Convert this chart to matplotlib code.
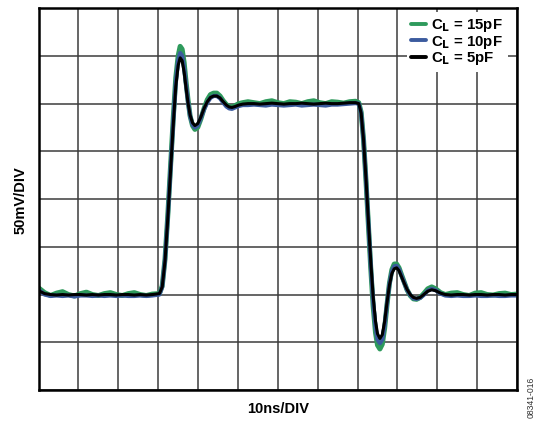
import matplotlib
matplotlib.use("Agg")
import matplotlib.pyplot as plt

plt.rcParams["font.family"] = ["Liberation Sans", "DejaVu Sans"]

# time axis (ns) shared by the three traces
time_ns = [
    0, 1.5, 3, 4.5, 6, 7.5, 9, 10.5, 12, 13.5, 15, 16.5, 18, 19.5, 21, 22.5, 24, 25.5, 27, 28.5,
    30.3, 31, 31.7, 32.4, 33.1, 33.8, 34.4, 35.0, 35.5, 36.0, 36.5, 37.0, 37.5, 38.0, 38.6, 39.2,
    39.9, 40.7, 41.5, 42.3, 43.1, 43.9, 44.7, 45.5, 46.3, 47.1, 47.8, 48.5, 49.3, 50.2, 51.2,
    52.5, 54, 55.5, 57, 58.5, 60, 61.5, 63, 64.5, 66, 67.5, 69, 70.5, 72, 73.5, 75, 76.5, 78, 79.5,
    80.3, 80.9, 81.5, 82.1, 82.7, 83.3, 83.9, 84.5, 85.0, 85.6, 86.2, 86.8, 87.4, 88.0, 88.6, 89.2,
    89.8, 90.4, 91.0, 91.7, 92.4, 93.2, 94.0, 94.8, 95.7, 96.6, 97.6, 98.6, 99.6, 100.8,
    102, 103.5, 105, 106.5, 108, 109.5, 111, 112.5, 114, 115.5, 117, 118.5, 120,
]

# output voltage (mV) for each load capacitance
cl_15pf = [
    107, 102, 99, 101.5, 103, 100, 98.5, 101, 102.5, 100, 99, 101, 102, 100, 99, 101, 102, 100, 99, 100.5,
    101, 109, 137, 183, 235, 287, 327, 350, 360, 357, 343, 322, 303, 287, 277, 273,
    275, 284, 295, 304, 309.5, 311, 311, 308, 303, 299, 297, 296.5, 298, 300, 301,
    302, 301, 300, 302, 303, 301, 300, 302, 301.5, 300, 302, 303, 301, 300, 302, 301.5, 300.5, 302, 302.5,
    301, 291, 262, 220, 174, 128, 88, 60, 47, 43, 48, 65, 90, 112, 126, 132,
    132, 128, 121, 113, 105, 99, 95.5, 95, 97, 101, 106, 108, 106, 102,
    100, 101.5, 102, 100, 99, 101.5, 102, 100, 99.5, 101, 101.5, 100, 100.5,
]
cl_10pf = [
    105, 100, 98.5, 99, 98.5, 99, 98, 99, 99, 98.5, 99, 98.5, 99, 98.5, 99, 98.5, 98.5, 99, 98.5, 99,
    100, 108, 136, 181, 232, 283, 322, 345, 353, 350, 337, 319, 301, 287, 278, 275,
    277, 285, 294, 301, 306, 308, 308, 305.5, 301, 297, 295, 294.5, 296, 297.5, 298.5,
    298.5, 299, 298.5, 298, 299, 298.5, 298, 298.5, 299, 298, 298.5, 299, 298.5, 298, 299, 299, 299.5, 300, 300.5,
    300, 290, 262, 221, 176, 131, 93, 66, 53, 49, 53, 68, 91, 111, 124, 129.5,
    130, 126.5, 120, 112.5, 105, 99.5, 96, 95.5, 96.5, 99.5, 104, 106, 104.5, 101,
    99, 98.5, 99, 98.5, 98.5, 99, 98.5, 98.5, 99, 98.5, 98.5, 99, 99,
]
cl_5pf = [
    104, 101, 100, 99.5, 100, 99.5, 100, 100, 99.5, 100, 99.5, 100, 100, 99.5, 100, 100, 99.5, 100, 99.5, 100,
    101, 108, 135, 180, 230, 280, 318, 340, 348, 345, 333, 316, 300, 288, 280, 277,
    279, 286, 295, 302, 306.5, 308, 308, 306, 302, 298.5, 296.5, 296, 297, 298.5, 299.5,
    300, 300, 299.5, 300, 300.5, 300, 299.5, 300, 300, 300.5, 300, 299.5, 300, 300.5, 300, 300, 300.5, 301, 301,
    300, 290, 262, 222, 178, 135, 98, 72, 59, 54, 58, 72, 92, 110, 122, 127,
    128, 125, 119, 112, 105.5, 100, 97, 96, 97, 100, 103.5, 105, 104, 101.5,
    100, 99.5, 100, 100, 99.5, 100, 100, 99.5, 100, 100, 99.5, 100, 100,
]

fig = plt.figure(figsize=(5.4, 4.21), dpi=100)
ax = fig.add_axes([0.0715, 0.0736, 0.886, 0.907])

line_kw = dict(solid_joinstyle="round", solid_capstyle="round")
ax.plot(time_ns, cl_15pf, color="#2e9a5c", lw=3.6, label="C$_\\mathbf{L}$ = 15pF", **line_kw)
ax.plot(time_ns, cl_10pf, color="#3b5b9e", lw=3.0, label="C$_\\mathbf{L}$ = 10pF", **line_kw)
ax.plot(time_ns, cl_5pf, color="black", lw=2.2, label="C$_\\mathbf{L}$ = 5pF", **line_kw)

ax.set_xlim(0, 120)
ax.set_ylim(0, 400)
ax.set_xticks(range(0, 121, 10))
ax.set_yticks(range(0, 401, 50))
ax.tick_params(length=0, labelbottom=False, labelleft=False)
ax.grid(True, color="#3c3c3c", lw=1.1)
ax.set_axisbelow(True)
for spine in ax.spines.values():
    spine.set_linewidth(1.8)

leg = ax.legend(
    loc="upper right", bbox_to_anchor=(0.985, 0.995), frameon=True, fancybox=False,
    framealpha=1, edgecolor="none", facecolor="white",
    prop={"weight": "bold", "size": 10.8}, handlelength=1.0, handletextpad=0.35,
    labelspacing=-0.02, borderpad=0.3, borderaxespad=0.15,
)
for h in leg.get_lines():
    h.set_linewidth(2.8)

fig.text(278 / 540, 1 - 409 / 421, "10ns/DIV", ha="center", va="center",
         fontsize=10.5, fontweight="bold")
fig.text(21 / 540, 1 - 200 / 421, "50mV/DIV", ha="center", va="center",
         rotation=90, fontsize=10.5, fontweight="bold")
fig.text(531 / 540, 1 - 397 / 421, "08341-016", ha="center", va="center",
         rotation=90, fontsize=6.2, color="#333333")

fig.savefig("out.png", dpi=100)
